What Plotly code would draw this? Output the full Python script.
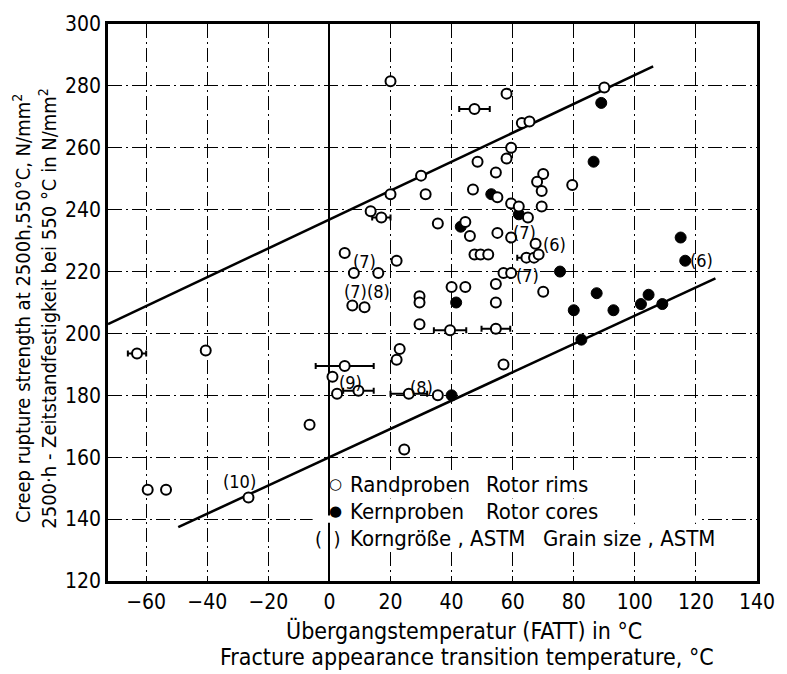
import plotly.graph_objects as go

# Rotor rims (Randproben), open circles
rim_x = [20, 58, 63, 65.5, 90, 59.5, 58, 48.5, 54.5, 30, 20, 31.5, 47, 55, 70, 68, 69.5,
         79.5, 59.5, 62, 69.5, 65, 13.5, 35.5, 44.5, 46, 55, 59.5, 67.5, 5, 22, 47.5, 49.5,
         52, 67, 68.5, 8, 16, 57, 59.5, 40, 44.5, 54.5, 70, 7.5, 11.5, 29.5, 29.5, 54.5,
         29.5, 1, 2.5, 22, 23, 35.5, 57, -6.5, 24.5, -40.5, -59.5, -53.5, -26.5]
rim_y = [281.5, 277.5, 268, 268.5, 279.5, 260, 256.5, 255.5, 252, 251, 245, 245, 246.5,
         244, 251.5, 249, 246, 248, 242, 241, 241, 237.5, 239.5, 235.5, 236, 231.5, 232.5,
         231, 229, 226, 223.5, 225.5, 225.5, 225.5, 224.5, 225.5, 219.5, 219.5, 219.5,
         219.5, 215, 215, 216, 213.5, 209, 208.5, 212, 210, 210, 203, 186, 180.5, 191.5,
         195, 180, 190, 170.5, 162.5, 194.5, 149.5, 149.5, 147]

# Rotor rims with scatter band in FATT
rim_err_x = [47.5, 17, 64.5, 39.5, 54.5, 5, 9.5, 26, -63]
rim_err_y = [272.5, 237.5, 224.5, 201, 201.5, 189.5, 181.5, 180.5, 193.5]
rim_err_dx = [5, 3, 3, 5.3, 4.7, 9.5, 5, 6, 3]

# Rotor cores (Kernproben), filled circles
core_x = [89, 86.5, 53, 62, 43, 115, 116.5, 75.5, 87.5, 80, 93, 102, 104.5, 109, 82.5, 41.5, 40]
core_y = [274.5, 255.5, 245, 238.5, 234.5, 231, 223.5, 220, 213, 207.5, 207.5, 209.5,
          212.5, 209.5, 198, 210, 180]

# Scatter band limits
upper_x = [-72.5, 106]
upper_y = [203.0, 286.3]
lower_x = [-49.5, 126.4]
lower_y = [137.4, 217.8]

# ASTM grain size notes
grain_text = ["(7)", "(6)", "(7)", "(6)", "(7)", "(7)(8)", "(9)", "(8)", "(10)"]
grain_x = [64, 73.6, 65, 121.8, 11.6, 12.2, 6.8, 30.2, -29.6]
grain_y = [232.7, 228.8, 218.6, 223.6, 223.4, 213.5, 184, 182.5, 152]

x_ticks = [-60, -40, -20, 0, 20, 40, 60, 80, 100, 120, 140]
y_ticks = [120, 140, 160, 180, 200, 220, 240, 260, 280, 300]

FONT = "DejaVu Sans Condensed, DejaVu Sans, sans-serif"
INK = "black"

fig = go.Figure()

# white panel behind the key, interrupting the 140 grid line
fig.add_shape(type="rect", x0=-5.5, x1=121, y0=138.8, y1=141.2, layer="between",
              fillcolor="white", line=dict(width=0))

for lx, ly in ((upper_x, upper_y), (lower_x, lower_y)):
    fig.add_trace(go.Scatter(x=lx, y=ly, mode="lines",
                             line=dict(color=INK, width=2.6), hoverinfo="skip"))

fig.add_trace(go.Scatter(
    x=core_x, y=core_y, mode="markers",
    marker=dict(symbol="circle", size=11, color=INK, line=dict(color=INK, width=1))))

fig.add_trace(go.Scatter(
    x=rim_err_x, y=rim_err_y, mode="markers",
    error_x=dict(type="data", array=rim_err_dx, color=INK, thickness=2, width=3),
    marker=dict(symbol="circle", size=10, color="white", line=dict(color=INK, width=2))))

fig.add_trace(go.Scatter(
    x=rim_x, y=rim_y, mode="markers",
    marker=dict(symbol="circle", size=10, color="white", line=dict(color=INK, width=2))))

for t, gx, gy in zip(grain_text, grain_x, grain_y):
    fig.add_annotation(x=gx, y=gy, text=t, showarrow=False,
                       font=dict(family=FONT, size=18, color=INK))

# Key
key_rows = [("\u25cb", "Randproben", "Rotor rims", 151.3, 51.0, 1.9),
            ("\u25cf", "Kernproben", "Rotor cores", 142.6, 51.0, 1.9),
            ("(  )", "Korngr\u00f6\u00dfe , ASTM", "Grain size , ASTM", 133.7, 69.5, -0.6)]
for sym, de, en, ky, ex, sx in key_rows:
    fig.add_annotation(x=sx, y=ky, text=sym, showarrow=False, xanchor="center",
                       font=dict(family="DejaVu Sans" if sym != "(  )" else FONT,
                                 size=15 if sym != "(  )" else 20, color=INK))
    fig.add_annotation(x=6.5, y=ky, text=de, showarrow=False, xanchor="left",
                       font=dict(family=FONT, size=22, color=INK), bgcolor="white",
                       borderpad=0)
    fig.add_annotation(x=ex, y=ky, text=en, showarrow=False, xanchor="left",
                       font=dict(family=FONT, size=22, color=INK), bgcolor="white",
                       borderpad=0)

fig.add_annotation(xref="paper", yref="paper", x=-0.113, y=0.49,
                   text="Creep rupture strength at 2500h,550\u00b0C, N/mm<sup>2</sup><br>"
                        "2500\u00b7h - Zeitstandfestigkeit bei 550 \u00b0C in N/mm<sup>2</sup>",
                   textangle=-90, showarrow=False, xanchor="center", yanchor="middle",
                   font=dict(family=FONT, size=20, color=INK))
fig.add_annotation(xref="paper", yref="paper", x=0.548, y=-0.088,
                   text="\u00dcbergangstemperatur (FATT) in \u00b0C",
                   showarrow=False, yanchor="middle",
                   font=dict(family=FONT, size=23, color=INK))
fig.add_annotation(xref="paper", yref="paper", x=0.553, y=-0.136,
                   text="Fracture appearance transition temperature, \u00b0C",
                   showarrow=False, yanchor="middle",
                   font=dict(family=FONT, size=23, color=INK))

axis_common = dict(showline=True, linecolor=INK, linewidth=2.5, mirror=True,
                   showgrid=True, gridcolor=INK, gridwidth=1.4,
                   griddash="14px,4px,2px,4px", ticks="",
                   tickfont=dict(family=FONT, size=21, color=INK))

fig.update_xaxes(range=[-72.5, 140], tickvals=x_ticks,
                 zeroline=True, zerolinecolor=INK, zerolinewidth=2.4, **axis_common)
fig.update_yaxes(range=[120, 300], tickvals=y_ticks, zeroline=False, **axis_common)

fig.update_layout(width=787, height=674, showlegend=False,
                  margin=dict(l=108, r=19, t=17, b=93),
                  paper_bgcolor="white", plot_bgcolor="white")

fig.write_html("out.html")
